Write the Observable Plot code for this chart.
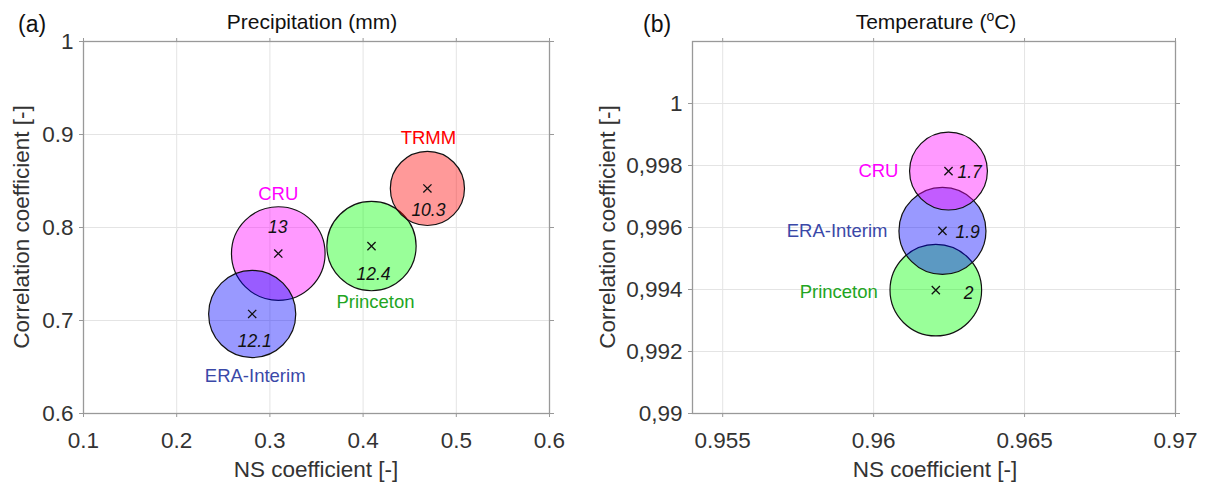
<!DOCTYPE html>
<html>
<head>
<meta charset="utf-8">
<script src="https://cdn.jsdelivr.net/npm/d3@7"></script>
<script src="https://cdn.jsdelivr.net/npm/@observablehq/plot@0.6"></script>
<style>
  body { margin: 0; background: #fff; }
  #wrap { display: flex; width: 1206px; height: 488px; overflow: hidden; }
  #wrap svg { flex: none; }
</style>
</head>
<body>
<div id="wrap"></div>
<script>
// ---------- data ----------
const precipProducts = ["CRU", "ERA-Interim", "Princeton", "TRMM"];
const precipNS = [0.309, 0.281, 0.409, 0.469];
const precipCorr = [0.772, 0.707, 0.780, 0.842];
const precipRMSE = [13, 12.1, 12.4, 10.3];

const tempProducts = ["Princeton", "ERA-Interim", "CRU"];
const tempNS = [0.96206, 0.96228, 0.96248];
const tempCorr = [0.99398, 0.99589, 0.99782];
const tempRMSE = [2, 1.9, 1.7];

const xTicksA = [0.1, 0.2, 0.3, 0.4, 0.5, 0.6];
const yTicksA = [0.6, 0.7, 0.8, 0.9, 1];
const xTickLabelsA = ["0.1", "0.2", "0.3", "0.4", "0.5", "0.6"];
const yTickLabelsA = ["0.6", "0.7", "0.8", "0.9", "1"];

const xTicksB = [0.955, 0.96, 0.965, 0.97];
const xTickLabelsB = ["0.955", "0.96", "0.965", "0.97"];
const yTicksB = [0.99, 0.992, 0.994, 0.996, 0.998, 1];
const yTickLabelsB = ["0,99", "0,992", "0,994", "0,996", "0,998", "1"];

// ---------- styles ----------
const fillColors = {"CRU": "#ff00ff", "ERA-Interim": "#0000ff", "Princeton": "#00ff00", "TRMM": "#ff0000"};
const nameColors = {"CRU": "#ff00ff", "ERA-Interim": "#3a48a8", "Princeton": "#22a522", "TRMM": "#ff0000"};
const FONT = "'Liberation Sans', Arial, Helvetica, sans-serif";

// label offsets (pixels) relative to each centre marker
const nameOffsetsA = {"CRU": [0, -59], "ERA-Interim": [3, 62], "Princeton": [4, 56], "TRMM": [1, -50]};
const valueOffsetsA = {"CRU": [-0.5, -26], "ERA-Interim": [2.5, 27], "Princeton": [2, 28], "TRMM": [1, 22]};
const nameOffsetsB = {"CRU": [-50, 0], "ERA-Interim": [-55, 0], "Princeton": [-58, 2]};
const valueOffsetsB = {"CRU": [9, 1.5], "ERA-Interim": [13, 1.5], "Princeton": [28, 3]};

function rowsOf(names, ns, cc, v) {
  return names.map((n, i) => ({name: n, ns: ns[i], cc: cc[i], v: v[i]}));
}

function panel(cfg) {
  const rows = cfg.rows;
  const labelMarks = [];
  for (const d of rows) {
    const no = cfg.nameOff[d.name], vo = cfg.valOff[d.name];
    labelMarks.push(Plot.text([d], {
      x: "ns", y: "cc", text: "name", fill: nameColors[d.name],
      fontSize: 18.5, dx: no[0], dy: no[1], textAnchor: cfg.nameAnchor
    }));
    labelMarks.push(Plot.text([d], {
      x: "ns", y: "cc", text: r => String(r.v), fill: "#111",
      fontSize: 17.5, fontStyle: "italic", dx: vo[0], dy: vo[1], textAnchor: cfg.valAnchor
    }));
  }
  const xf = d => cfg.xLabels[cfg.xTicks.indexOf(d)];
  const yf = d => cfg.yLabels[cfg.yTicks.indexOf(d)];
  return Plot.plot({
    width: cfg.width, height: 488,
    marginLeft: cfg.ml, marginRight: cfg.mr, marginTop: 41, marginBottom: 75,
    style: {fontFamily: FONT, color: "#333", background: "white", overflow: "visible"},
    x: {domain: cfg.xDomain},
    y: {domain: cfg.yDomain},
    r: {type: "linear", domain: cfg.rDomain, range: cfg.rRange},
    color: {type: "identity"},
    marks: [
      Plot.gridX(cfg.xTicks, {stroke: "#e4e4e4", strokeOpacity: 1}),
      Plot.gridY(cfg.yTicks, {stroke: "#e4e4e4", strokeOpacity: 1}),
      Plot.axisX({ticks: cfg.xTicks, tickFormat: xf, tickSize: 4, tickPadding: 15, stroke: "#999", fontSize: 22.5, label: null}),
      Plot.axisX({anchor: "top", ticks: cfg.xTicks, tickFormat: () => "", tickSize: 4, stroke: "#999", label: null}),
      Plot.axisY({ticks: cfg.yTicks, tickFormat: yf, tickSize: 4, tickPadding: 6, stroke: "#999", fontSize: 22.5, label: null}),
      Plot.axisY({anchor: "right", ticks: cfg.yTicks, tickFormat: () => "", tickSize: 4, stroke: "#999", label: null}),
      Plot.frame({stroke: "#999", strokeWidth: 1.3}),
      Plot.dot(rows, {x: "ns", y: "cc", r: "v", fill: d => fillColors[d.name], fillOpacity: 0.4, stroke: "#111", strokeWidth: 1.2}),
      Plot.dot(rows, {x: "ns", y: "cc", symbol: "times", r: 3.8, stroke: "#111", strokeWidth: 1.3}),
      ...labelMarks
    ]
  });
}

const chartA = panel({
  rows: rowsOf(precipProducts, precipNS, precipCorr, precipRMSE),
  width: 600, ml: 83, mr: 51,
  xDomain: [0.1, 0.6], yDomain: [0.6, 1],
  xTicks: xTicksA, xLabels: xTickLabelsA, yTicks: yTicksA, yLabels: yTickLabelsA,
  rDomain: [0, 13], rRange: [0, 46.8],
  nameOff: nameOffsetsA, valOff: valueOffsetsA, nameAnchor: "middle", valAnchor: "middle"
});

const chartB = panel({
  rows: rowsOf(tempProducts, tempNS, tempCorr, tempRMSE),
  width: 606, ml: 92, mr: 31,
  xDomain: [0.954, 0.97], yDomain: [0.99, 1.002],
  xTicks: xTicksB, xLabels: xTickLabelsB, yTicks: yTicksB, yLabels: yTickLabelsB,
  rDomain: [0, 2], rRange: [0, 45.8],
  nameOff: nameOffsetsB, valOff: valueOffsetsB, nameAnchor: "end", valAnchor: "start"
});

const wrap = document.getElementById("wrap");
wrap.appendChild(chartA);
wrap.appendChild(chartB);

// ---------- titles & axis labels ----------
function decorate(svg, o) {
  const s = d3.select(svg);
  const g = s.append("g").attr("font-family", FONT);
  g.append("text").attr("x", o.tagX).attr("y", 32).attr("font-size", 23)
    .attr("text-anchor", "start").attr("fill", "#111").text(o.tag);
  const t = g.append("text").attr("x", o.cx).attr("y", 29).attr("font-size", 21)
    .attr("text-anchor", "middle").attr("fill", "#111");
  o.title(t);
  g.append("text").attr("x", o.xLabCx).attr("y", 477).attr("font-size", 22.5)
    .attr("text-anchor", "middle").attr("fill", "#333").text("NS coefficient [-]");
  g.append("text").attr("transform", `translate(${o.yLabX},227) rotate(-90)`).attr("font-size", 22.5)
    .attr("text-anchor", "middle").attr("fill", "#333").text("Correlation coefficient [-]");
}

decorate(chartA, {
  tag: "(a)", tagX: 18, cx: 312, xLabCx: 316, yLabX: 29,
  title: t => t.text("Precipitation (mm)")
});
decorate(chartB, {
  tag: "(b)", tagX: 43, cx: 336, xLabCx: 335, yLabX: 15,
  title: t => {
    t.append("tspan").text("Temperature (");
    t.append("tspan").attr("font-size", 14).attr("dy", -8).text("o");
    t.append("tspan").attr("dy", 8).text("C)");
  }
});
</script>
</body>
</html>
